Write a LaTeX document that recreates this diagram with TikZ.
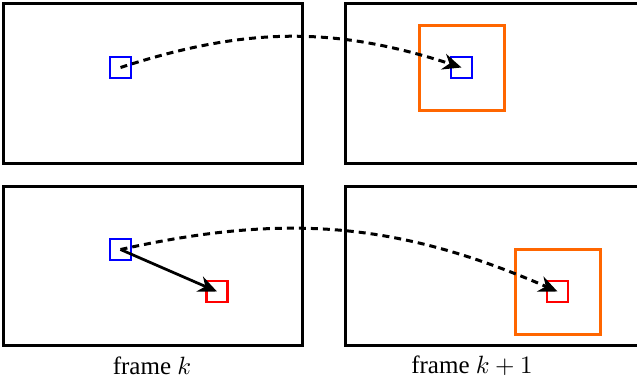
\documentclass[tikz,border=0pt]{standalone}
\usepackage{amsmath,amssymb}
\usepackage{fontspec}
\setmainfont{Liberation Serif}
\usetikzlibrary{positioning,arrows.meta}
\definecolor{boxorange}{RGB}{255,102,0}

\begin{document}
\begin{tikzpicture}[x=0.4pt, y=0.4pt,
  frame/.style={draw, line width=1.2pt, minimum width=119.2pt, minimum height=63.6pt, inner sep=0pt},
  patch/.style={draw, line width=1pt, minimum size=8.4pt, inner sep=0pt},
  search/.style={draw=boxorange, line width=1.2pt, minimum size=34pt, inner sep=0pt},
  track/.style={-{Stealth[length=7.5pt, width=6.5pt]}, line width=1.2pt, dash pattern=on 2.8pt off 2pt},
  motion/.style={-{Stealth[length=7.5pt, width=6.5pt]}, line width=1.1pt}]
  \useasboundingbox (0,0) rectangle (637,381);
  \clip (0,0) rectangle (637,381);
  \node[frame] (fk1) at (153,297.5) {};
  \node[frame] (fn1) at (494,297.5) {};
  \node[frame] (fk2) at (153,115.5) {};
  \node[frame] (fn2) at (494,115.5) {};
  \node[patch, blue] (p1) at (120.5,313.5) {};
  \node[search] (s1) at (461.5,313) {};
  \node[patch, blue] (q1) at (461.5,313.5) {};
  \node[patch, blue] (p2) at (120.5,131.5) {};
  \node[patch, red] (m2) at (217,89.5) {};
  \node[search] (s2) at (557.5,89.5) {};
  \node[patch, red] (q2) at (557.5,89.5) {};
  \draw[track] (p1.center) to[bend left=18] (q1.center);
  \draw[track] (p2.center) to[bend left=18] (q2.center);
  \draw[motion] (p2.center) -- (m2.center);
  \node (lk) at (152,15) {frame $k$};
  \node (ln) at (472,15) {frame $k+1$};
\end{tikzpicture}
\end{document}
